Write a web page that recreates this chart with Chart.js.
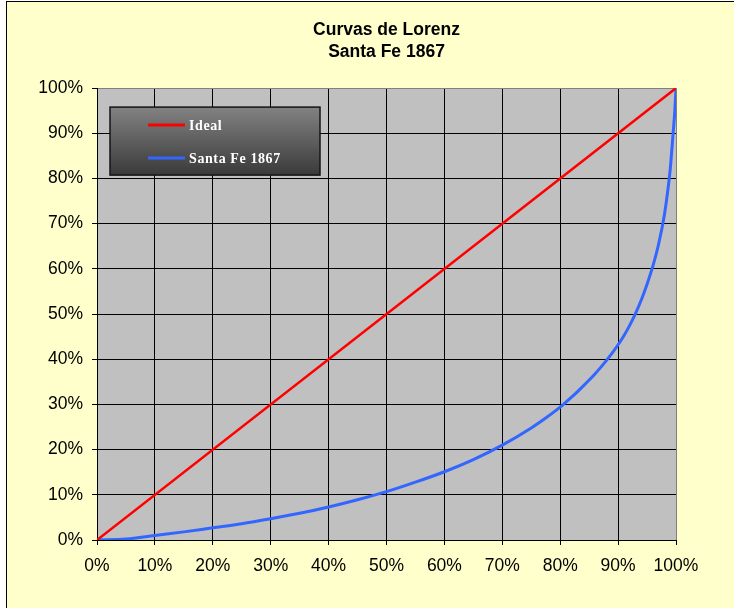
<!DOCTYPE html>
<html>
<head>
<meta charset="utf-8">
<script src="https://cdn.jsdelivr.net/npm/chart.js@4/dist/chart.umd.min.js"></script>
<style>
  html, body { margin: 0; padding: 0; background: #ffffff; overflow: hidden; }
  #frame {
    position: absolute; left: 6px; top: 1px; width: 760px; height: 640px;
    background: #FFFFCC; border: 1px solid #000;
  }
  #wrap { position: absolute; left: 0; top: 0; width: 734px; height: 608px; }
</style>
</head>
<body>
<div id="frame"></div>
<div id="wrap"><canvas id="c" width="734" height="608"></canvas></div>
<script>
// Cumulative share of population (%) and matching cumulative share of wealth (%)
const poblacion = [0, 5, 10, 15, 20, 25, 30, 35, 40, 45, 50, 55, 60, 65, 70, 75, 77.5, 80, 81, 82, 83, 84, 85, 86, 87, 88, 89, 90, 91, 92, 93, 94, 95, 96, 97, 98, 98.5, 99, 99.5, 99.8, 100];
const santaFe1867 = [0, 0.2, 1.0, 1.8, 2.7, 3.6, 4.7, 5.9, 7.3, 8.9, 10.7, 12.8, 15.1, 17.8, 21.0, 24.8, 27.0, 29.4, 30.5, 31.65, 32.85, 34.1, 35.4, 36.75, 38.2, 39.75, 41.4, 43.2, 45.2, 47.5, 50.1, 53.1, 56.6, 60.6, 65.5, 72.0, 76.5, 82.0, 90.0, 95.0, 100];
// Line of perfect equality
const idealX = [0, 100];
const idealY = [0, 100];
const tickValues = [0, 10, 20, 30, 40, 50, 60, 70, 80, 90, 100];

const seriesNames = ['Ideal', 'Santa Fe 1867'];
const titleLines = ['Curvas de Lorenz', 'Santa Fe 1867'];

const toPoints = (xs, ys) => xs.map((x, i) => ({ x: x, y: ys[i] }));

// Gray plotting area
const plotBg = {
  id: 'plotBg',
  beforeDraw(chart) {
    const { ctx, chartArea: a } = chart;
    ctx.save();
    ctx.fillStyle = '#C0C0C0';
    ctx.fillRect(a.left, a.top, a.right - a.left, a.bottom - a.top);
    ctx.restore();
  }
};

// Dark gradient legend box inside the plot, upper-left
const boxLegend = {
  id: 'boxLegend',
  afterDraw(chart) {
    const { ctx, chartArea: a } = chart;
    const x = a.left + 13, y = a.top + 19, w = 210, h = 68;
    ctx.save();
    const g = ctx.createLinearGradient(0, y, 0, y + h);
    g.addColorStop(0, '#828282');
    g.addColorStop(1, '#3a3a3a');
    ctx.fillStyle = g;
    ctx.fillRect(x, y, w, h);
    ctx.strokeStyle = '#151515';
    ctx.lineWidth = 1.5;
    ctx.strokeRect(x, y, w, h);
    const rows = [y + 18, y + 51];
    chart.data.datasets.forEach((ds, i) => {
      const ry = rows[i];
      ctx.strokeStyle = ds.borderColor;
      ctx.lineWidth = 3;
      ctx.beginPath();
      ctx.moveTo(x + 38, ry);
      ctx.lineTo(x + 75, ry);
      ctx.stroke();
      ctx.fillStyle = '#ffffff';
      ctx.font = 'bold 14px "Liberation Serif", "Times New Roman", serif';
      ctx.letterSpacing = '0.6px';
      ctx.textBaseline = 'middle';
      ctx.textAlign = 'left';
      ctx.fillText(ds.label, x + 79, ry + 1);
    });
    ctx.restore();
  }
};

const gridColor = (edgeValue) => (c) => (c.tick && c.tick.value === edgeValue ? '#808080' : '#000000');
const tickFont = { family: '"Liberation Sans", Arial, sans-serif', size: 17.5 };

new Chart(document.getElementById('c'), {
  type: 'line',
  data: {
    datasets: [
      {
        label: seriesNames[0],
        data: toPoints(idealX, idealY),
        borderColor: '#FF0000',
        borderWidth: 2.5,
        pointRadius: 0,
        tension: 0
      },
      {
        label: seriesNames[1],
        data: toPoints(poblacion, santaFe1867),
        borderColor: '#3366FF',
        borderWidth: 3,
        pointRadius: 0,
        cubicInterpolationMode: 'monotone'
      }
    ]
  },
  options: {
    responsive: false,
    animation: false,
    layout: { padding: { left: 0, right: 58, top: 0, bottom: 0 } },
    plugins: {
      legend: { display: false },
      tooltip: { enabled: false },
      title: {
        display: true,
        fullSize: false,
        text: titleLines,
        color: '#000000',
        font: { family: '"Liberation Sans", Arial, sans-serif', size: 17.5, weight: 'bold', lineHeight: 1.26 },
        padding: { top: 19, bottom: 25 }
      }
    },
    scales: {
      x: {
        type: 'linear',
        min: 0, max: 100,
        afterBuildTicks(scale) { scale.ticks = tickValues.map(v => ({ value: v })); },
        afterFit(scale) { scale.height = 68; },
        ticks: {
          color: '#000000',
          padding: 11,
          maxRotation: 0,
          font: tickFont,
          callback: (v) => v + '%'
        },
        grid: { color: gridColor(100), lineWidth: 1, tickLength: 5, tickColor: '#000000' },
        border: { color: '#000000', width: 1 }
      },
      y: {
        type: 'linear',
        min: 0, max: 100,
        afterBuildTicks(scale) { scale.ticks = tickValues.map(v => ({ value: v })); },
        afterFit(scale) { scale.width = 97; },
        ticks: {
          color: '#000000',
          padding: 9,
          font: tickFont,
          callback: (v) => v + '%'
        },
        grid: { color: gridColor(100), lineWidth: 1, tickLength: 5, tickColor: '#000000' },
        border: { color: '#000000', width: 1 }
      }
    }
  },
  plugins: [plotBg, boxLegend]
});
</script>
</body>
</html>
